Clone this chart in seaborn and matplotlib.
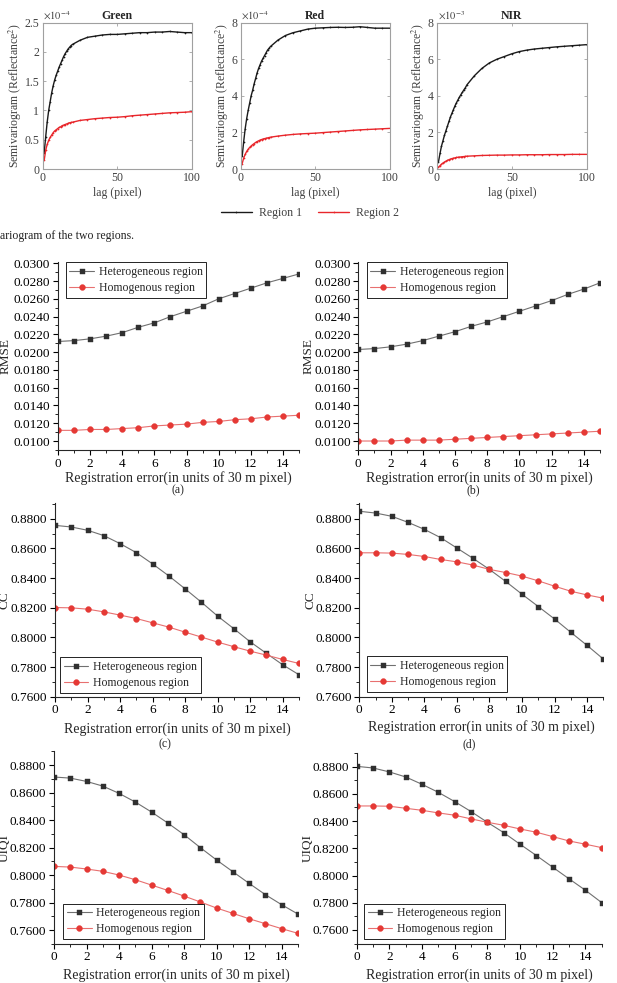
import matplotlib
matplotlib.use("Agg")
import matplotlib.pyplot as plt
import seaborn as sns
from matplotlib.ticker import MultipleLocator, AutoMinorLocator, FormatStrFormatter

# ---------------- data ----------------
# semivariogram, lag in pixels
lags = [1, 2, 3, 4, 5, 6, 7, 8, 9, 10, 11, 12, 13, 14, 15, 16, 17, 18, 19, 20,
        25, 30, 35, 40, 45, 50, 55, 60, 65, 70, 75, 80, 85, 90, 95, 100]

# Green (x 1e-4)
green_r1 = [0.28, 0.55, 0.80, 1.00, 1.15, 1.30, 1.42, 1.52, 1.60, 1.67, 1.74, 1.80, 1.86, 1.92, 1.97, 2.01, 2.05, 2.08, 2.11, 2.13,
            2.20, 2.25, 2.27, 2.29, 2.30, 2.30, 2.31, 2.32, 2.33, 2.33, 2.34, 2.34, 2.35, 2.34, 2.33, 2.33]
green_r2 = [0.15, 0.32, 0.42, 0.49, 0.54, 0.58, 0.62, 0.65, 0.67, 0.69, 0.71, 0.72, 0.74, 0.75, 0.76, 0.77, 0.78, 0.79, 0.795, 0.80,
            0.83, 0.845, 0.86, 0.87, 0.88, 0.885, 0.895, 0.91, 0.92, 0.93, 0.94, 0.95, 0.96, 0.965, 0.97, 0.98]
# Red (x 1e-4)
red_r1 = [0.70, 1.50, 2.20, 2.75, 3.20, 3.60, 4.00, 4.30, 4.65, 4.95, 5.25, 5.50, 5.70, 5.90, 6.05, 6.20, 6.35, 6.50, 6.60, 6.70,
          7.05, 7.30, 7.45, 7.55, 7.65, 7.70, 7.72, 7.74, 7.75, 7.74, 7.75, 7.78, 7.74, 7.70, 7.70, 7.70]
red_r2 = [0.30, 0.60, 0.80, 0.96, 1.08, 1.18, 1.26, 1.33, 1.39, 1.45, 1.50, 1.54, 1.58, 1.61, 1.64, 1.66, 1.68, 1.70, 1.72, 1.74,
          1.80, 1.85, 1.89, 1.92, 1.94, 1.96, 1.99, 2.02, 2.05, 2.08, 2.11, 2.14, 2.16, 2.18, 2.20, 2.22]
# NIR (x 1e-3)
nir_r1 = [0.40, 0.85, 1.25, 1.55, 1.85, 2.10, 2.35, 2.60, 2.85, 3.05, 3.25, 3.45, 3.62, 3.78, 3.93, 4.07, 4.20, 4.33, 4.45, 4.60,
          5.10, 5.50, 5.80, 6.00, 6.15, 6.30, 6.42, 6.50, 6.56, 6.60, 6.64, 6.68, 6.71, 6.74, 6.77, 6.80]
nir_r2 = [0.10, 0.18, 0.26, 0.33, 0.38, 0.43, 0.47, 0.51, 0.54, 0.57, 0.59, 0.61, 0.63, 0.64, 0.65, 0.66, 0.67, 0.68, 0.69, 0.70,
          0.72, 0.74, 0.75, 0.76, 0.76, 0.77, 0.77, 0.78, 0.78, 0.78, 0.79, 0.79, 0.79, 0.80, 0.80, 0.80]

# registration error experiments (units of 30 m pixel)
reg_err = [0, 1, 2, 3, 4, 5, 6, 7, 8, 9, 10, 11, 12, 13, 14, 15]

rmse_a_het = [0.0212, 0.0213, 0.0215, 0.0218, 0.0222, 0.0228, 0.0233, 0.0240, 0.0246, 0.0252, 0.0260, 0.0266, 0.0272, 0.0278, 0.0283, 0.0288]
rmse_a_hom = [0.0112, 0.0112, 0.0113, 0.0113, 0.0114, 0.0115, 0.0117, 0.0118, 0.0119, 0.0121, 0.0122, 0.0124, 0.0125, 0.0127, 0.0128, 0.0129]
rmse_b_het = [0.0203, 0.0204, 0.0206, 0.0209, 0.0213, 0.0218, 0.0223, 0.0229, 0.0234, 0.0240, 0.0246, 0.0252, 0.0258, 0.0265, 0.0271, 0.0278]
rmse_b_hom = [0.0100, 0.0100, 0.0100, 0.0101, 0.0101, 0.0101, 0.0102, 0.0103, 0.0104, 0.0105, 0.0106, 0.0107, 0.0108, 0.0109, 0.0110, 0.0111]

cc_c_het = [0.8755, 0.8744, 0.8722, 0.8686, 0.8632, 0.8571, 0.8495, 0.8414, 0.8327, 0.8237, 0.8143, 0.8058, 0.7970, 0.7892, 0.7815, 0.7748]
cc_c_hom = [0.8201, 0.8199, 0.8190, 0.8172, 0.8150, 0.8127, 0.8098, 0.8069, 0.8035, 0.8002, 0.7968, 0.7937, 0.7907, 0.7880, 0.7851, 0.7824]
cc_d_het = [0.8850, 0.8838, 0.8816, 0.8775, 0.8728, 0.8672, 0.8602, 0.8532, 0.8458, 0.8377, 0.8291, 0.8208, 0.8124, 0.8034, 0.7946, 0.7854]
cc_d_hom = [0.8570, 0.8570, 0.8568, 0.8559, 0.8545, 0.8525, 0.8509, 0.8487, 0.8458, 0.8437, 0.8413, 0.8381, 0.8345, 0.8311, 0.8286, 0.8264]

uiqi_e_het = [0.8713, 0.8705, 0.8681, 0.8647, 0.8594, 0.8531, 0.8458, 0.8378, 0.8293, 0.8199, 0.8109, 0.8024, 0.7939, 0.7857, 0.7784, 0.7716]
uiqi_e_hom = [0.8063, 0.8058, 0.8044, 0.8027, 0.8000, 0.7966, 0.7927, 0.7888, 0.7847, 0.7804, 0.7760, 0.7721, 0.7682, 0.7646, 0.7610, 0.7576]
uiqi_f_het = [0.8802, 0.8790, 0.8761, 0.8724, 0.8670, 0.8611, 0.8543, 0.8470, 0.8391, 0.8315, 0.8230, 0.8147, 0.8061, 0.7976, 0.7892, 0.7801]
uiqi_f_hom = [0.8511, 0.8511, 0.8509, 0.8494, 0.8479, 0.8460, 0.8443, 0.8416, 0.8391, 0.8369, 0.8342, 0.8318, 0.8286, 0.8254, 0.8230, 0.8205]

# ---------------- style ----------------
sns.set_theme(style="ticks")
plt.rcParams.update({'font.family': ['Liberation Serif', 'DejaVu Serif']})
plt.rcParams.update({'mathtext.fontset': 'stix'})
plt.rcParams.update({'axes.linewidth': 0.8})

W, H = 617, 983
fig = plt.figure(figsize=(W / 100, H / 100), dpi=100)


def add_ax(l, t, r, b):
    # axes box given in pixels (left, top, right, bottom)
    return fig.add_axes([l / W, 1 - b / H, (r - l) / W, (b - t) / H])


def ylabel_at(ax, x_px):
    pos = ax.get_position()
    ax.yaxis.set_label_coords(x_px / W, pos.y0 + pos.height / 2, transform=fig.transFigure)
    ax.yaxis.label.set_va('center')


def xlabel_at(ax, y_px):
    pos = ax.get_position()
    ax.xaxis.set_label_coords(pos.x0 + pos.width / 2, 1 - y_px / H, transform=fig.transFigure)
    ax.xaxis.label.set_va('center')


# ---------------- top row: semivariograms ----------------
grey = '#a0a0a0'
txt_grey = '#404040'
c_r1 = '#1a1a1a'
c_r2 = '#e8262b'

top_panels = [
    ("Green", green_r1, green_r2, 2.5, 0.5, r"$\times10^{-4}$", (42.7, 192), 15),
    ("Red", red_r1, red_r2, 8, 2, r"$\times10^{-4}$", (240.7, 389.8), 222),
    ("NIR", nir_r1, nir_r2, 8, 2, r"$\times10^{-3}$", (437, 586.6), 418),
]
for name, r1, r2, ymax, ystep, scale, (l, r), ylab_x in top_panels:
    ax = add_ax(l, 22.7, r, 169)
    sns.lineplot(x=lags, y=r1, ax=ax, color=c_r1, lw=1.0, marker='.', markersize=2.5,
                 markeredgewidth=0, label="Region 1", legend=False)
    sns.lineplot(x=lags, y=r2, ax=ax, color=c_r2, lw=1.0, marker='.', markersize=2.5,
                 markeredgewidth=0, label="Region 2", legend=False)
    ax.set_xlim(0, 100)
    ax.set_ylim(0, ymax)
    ax.xaxis.set_major_locator(MultipleLocator(50))
    ax.yaxis.set_major_locator(MultipleLocator(ystep))
    ax.yaxis.set_major_formatter(FormatStrFormatter('%g'))
    ax.tick_params(direction='in', length=2.5, width=0.6, color=grey, labelsize=8.5,
                   labelcolor=txt_grey, top=True, right=True, pad=2.5)
    for s in ax.spines.values():
        s.set_color(grey)
        s.set_linewidth(0.8)
    ax.set_title(name, fontsize=8.5, fontweight='bold', pad=3)
    ax.text(0.005, 1.005, scale, transform=ax.transAxes, ha='left', va='bottom',
            fontsize=7.5, color=txt_grey)
    ax.set_xlabel("lag (pixel)", fontsize=8.5, color=txt_grey)
    ax.set_ylabel(r"Semivariogram (Reflectance$^2$)", fontsize=8.5, color=txt_grey)
    ylabel_at(ax, ylab_x)
    xlabel_at(ax, 193)
    if name == "Green":
        top_handles, top_labels = ax.get_legend_handles_labels()

fig.legend(top_handles, top_labels, loc='center', bbox_to_anchor=(310 / W, 1 - 212.7 / H),
           ncol=2, frameon=False, fontsize=8.5, handlelength=2.6, handletextpad=0.6,
           columnspacing=1.4, labelcolor=txt_grey)
fig.text(0, 1 - 236 / H, "ariogram of the two regions.", ha='left', va='center', fontsize=8.5, color='#222222')

# ---------------- metric panels ----------------
bottom_panels = [
    # het, hom, ylabel, box(l,t,r,b), ylim, step, legend loc, legend anchor px, xlabel y, ylabel x
    (rmse_a_het, rmse_a_hom, "RMSE", (58, 262.4, 299, 449.9), (0.0090, 0.0301), 0.002,
     'upper left', (65.7, 262.3), 478, 6),
    (rmse_b_het, rmse_b_hom, "RMSE", (358.3, 262.4, 600, 449.9), (0.0090, 0.0301), 0.002,
     'upper left', (366.7, 262.3), 478, 309),
    (cc_c_het, cc_c_hom, "CC", (55, 503.4, 299, 696.7), (0.76, 0.8903), 0.02,
     'lower left', (60, 692.7), 729, 5),
    (cc_d_het, cc_d_hom, "CC", (359.3, 503.4, 603.3, 696.7), (0.76, 0.8903), 0.02,
     'lower left', (366.7, 691.7), 727, 310),
    (uiqi_e_het, uiqi_e_hom, "UIQI", (54, 751.3, 298, 943.8), (0.75, 0.89), 0.02,
     'lower left', (63.3, 939), 975, 5),
    (uiqi_f_het, uiqi_f_hom, "UIQI", (356.7, 753, 601.7, 943.6), (0.75, 0.89), 0.02,
     'lower left', (364, 939), 975, 308),
]

for het, hom, ylab, box, ylim, step, loc, (lx, ly), xl_y, yl_x in bottom_panels:
    ax = add_ax(*box)
    sns.lineplot(x=reg_err, y=het, ax=ax, color='#707070', lw=0.8, marker='s', markersize=3.6,
                 markerfacecolor='#303030', markeredgecolor='#303030', markeredgewidth=0.3,
                 label="Heterogeneous region", legend=False)
    sns.lineplot(x=reg_err, y=hom, ax=ax, color='#e87070', lw=0.8, marker='o', markersize=4.2,
                 markerfacecolor='#e53935', markeredgecolor='#e53935', markeredgewidth=0.3,
                 label="Homogenous region", legend=False)
    ax.set_xlim(0, 15)
    ax.set_ylim(*ylim)
    ax.xaxis.set_major_locator(MultipleLocator(2))
    ax.xaxis.set_minor_locator(MultipleLocator(1))
    ax.yaxis.set_major_locator(MultipleLocator(step))
    ax.yaxis.set_minor_locator(AutoMinorLocator(2))
    ax.yaxis.set_major_formatter(FormatStrFormatter('%.4f'))
    ax.tick_params(which='major', direction='out', length=3.5, width=0.8, labelsize=9.5, pad=2,
                   color='black', labelcolor='black')
    ax.tick_params(which='minor', direction='out', length=2, width=0.6, color='black')
    sns.despine(ax=ax)
    ax.set_xlabel("Registration error(in units of 30 m pixel)", fontsize=10)
    ax.set_ylabel(ylab, fontsize=9.5)
    xlabel_at(ax, xl_y)
    ylabel_at(ax, yl_x)
    leg = ax.legend(loc=loc, bbox_to_anchor=(lx / W, 1 - ly / H), bbox_transform=fig.transFigure,
                    borderaxespad=0, frameon=True, fancybox=False, edgecolor='black', framealpha=1,
                    fontsize=8.5, handlelength=2.1, handletextpad=0.4, borderpad=0.3,
                    labelspacing=0.35)
    leg.get_frame().set_linewidth(0.6)

fig.text(178 / W, 1 - 490 / H, "(a)", ha='center', va='center', fontsize=8.5)
fig.text(473 / W, 1 - 490 / H, "(b)", ha='center', va='center', fontsize=8.5)
fig.text(165 / W, 1 - 744 / H, "(c)", ha='center', va='center', fontsize=8.5)
fig.text(469 / W, 1 - 744 / H, "(d)", ha='center', va='center', fontsize=8.5)

plt.savefig("out.png", dpi=100)
